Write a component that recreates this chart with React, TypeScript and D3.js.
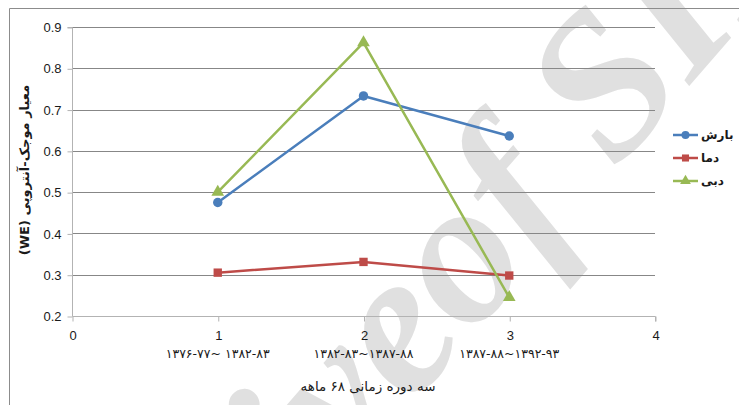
import React, { useRef, useEffect } from 'react';
import * as d3 from 'd3';

const periods = [1, 2, 3];
const periodLabels = ['۱۳۷۶-۷۷~ ۱۳۸۲-۸۳', '۱۳۸۲-۸۳~۱۳۸۷-۸۸', '۱۳۸۷-۸۸~۱۳۹۲-۹۳'];
const rainfall = [0.475, 0.733, 0.636];
const temperature = [0.305, 0.331, 0.298];
const discharge = [0.5, 0.862, 0.245];
const seriesNames = ['بارش', 'دما', 'دبی'];
const seriesColors = ['#4A7EBB', '#BE4B48', '#98B954'];
const yTicks = [0.2, 0.3, 0.4, 0.5, 0.6, 0.7, 0.8, 0.9];
const xTicks = [0, 1, 2, 3, 4];

const App = () => {
  const ref = useRef<SVGSVGElement>(null);

  useEffect(() => {
    const svg = d3.select(ref.current);
    svg.selectAll('*').remove();

    const x = d3.scaleLinear().domain([0, 4]).range([72, 655]);
    const y = d3.scaleLinear().domain([0.2, 0.9]).range([316, 27]);
    const numFont = '"Liberation Sans", Arial, sans-serif';
    const faFont = '"DejaVu Sans", sans-serif';

    svg.append('rect').attr('width', 739).attr('height', 405).attr('fill', '#fff');

    // watermark, behind the chart
    const wm = svg.append('g')
      .attr('transform', 'translate(470,338) rotate(-49)')
      .attr('font-family', '"Liberation Serif", serif')
      .attr('font-style', 'italic')
      .attr('font-weight', 'bold')
      .attr('font-size', 205)
      .attr('fill', '#e0e0e0');
    wm.append('text').attr('text-anchor', 'end').text('Archive ');
    wm.append('text').attr('text-anchor', 'start').text('of SID');

    // outer chart border
    svg.append('path')
      .attr('d', 'M9.5,405V8.5H739')
      .attr('fill', 'none')
      .attr('stroke', '#8c8c8c')
      .attr('stroke-width', 1);

    // gridlines
    svg.append('g').selectAll('line')
      .data(yTicks.slice(1))
      .enter().append('line')
      .attr('x1', x(0)).attr('x2', x(4))
      .attr('y1', d => Math.round(y(d)) + 0.5).attr('y2', d => Math.round(y(d)) + 0.5)
      .attr('stroke', '#878787');

    // y axis
    const yAxis = svg.append('g')
      .attr('transform', `translate(${x(0) + 0.5},0.5)`)
      .call(d3.axisLeft(y).tickValues(yTicks).tickSize(5).tickPadding(6).tickFormat(d3.format('.1f')));
    yAxis.select('.domain').attr('stroke', '#b3b3b3').attr('d', `M-5,${y(0.9)}H0V${y(0.2)}`);
    yAxis.selectAll('.tick line').attr('stroke', '#b3b3b3');
    yAxis.selectAll('.tick text')
      .attr('font-family', numFont).attr('font-size', 13).attr('fill', '#1a1a1a');

    // x axis
    const xAxis = svg.append('g')
      .attr('transform', `translate(0.5,${y(0.2) + 0.5})`)
      .call(d3.axisBottom(x).tickValues(xTicks).tickSize(5).tickPadding(9).tickFormat(d3.format('d')));
    xAxis.select('.domain').attr('stroke', '#b3b3b3').attr('d', `M${x(0)},0H${x(4)}V5`);
    xAxis.selectAll('.tick line').attr('stroke', '#b3b3b3');
    xAxis.selectAll('.tick text')
      .attr('font-family', numFont).attr('font-size', 13).attr('fill', '#1a1a1a');

    // period labels
    svg.append('g').selectAll('text')
      .data(periods)
      .enter().append('text')
      .attr('x', d => x(d))
      .attr('y', 358)
      .attr('text-anchor', 'middle')
      .attr('direction', 'ltr')
      .attr('font-family', faFont)
      .attr('font-size', 12.5)
      .attr('fill', '#1a1a1a')
      .text((d, i) => periodLabels[i]);

    // axis titles
    svg.append('text')
      .attr('x', 368).attr('y', 391)
      .attr('text-anchor', 'middle')
      .attr('direction', 'rtl')
      .attr('font-family', faFont)
      .attr('font-size', 13.5)
      .attr('fill', '#1a1a1a')
      .text('سه دوره زمانی ۶۸ ماهه');

    svg.append('text')
      .attr('transform', 'translate(29,170) rotate(-90)')
      .attr('text-anchor', 'middle')
      .attr('direction', 'rtl')
      .attr('font-family', faFont)
      .attr('font-size', 13)
      .attr('font-weight', 'bold')
      .attr('fill', '#1a1a1a')
      .text('معیار موجک-آنتروپی (WE)');

    // series
    const allSeries = [rainfall, temperature, discharge];
    const line = d3.line<number>().x((d, i) => x(periods[i])).y(d => y(d));
    const symbols = [d3.symbolCircle, d3.symbolSquare, d3.symbolTriangle];

    allSeries.forEach((vals, k) => {
      const g = svg.append('g');
      g.append('path')
        .attr('d', line(vals))
        .attr('fill', 'none')
        .attr('stroke', seriesColors[k])
        .attr('stroke-width', 2.5)
        .attr('stroke-linejoin', 'round');
      g.selectAll('path.m')
        .data(vals)
        .enter().append('path')
        .attr('class', 'm')
        .attr('d', d3.symbol().type(symbols[k]).size(70))
        .attr('transform', (d, i) => `translate(${x(periods[i])},${y(d)})`)
        .attr('fill', seriesColors[k]);
    });

    // legend
    const legend = svg.append('g');
    seriesNames.forEach((name, k) => {
      const ly = 135 + k * 23;
      legend.append('line')
        .attr('x1', 673).attr('x2', 698)
        .attr('y1', ly).attr('y2', ly)
        .attr('stroke', seriesColors[k]).attr('stroke-width', 2.5);
      legend.append('path')
        .attr('d', d3.symbol().type(symbols[k]).size(50))
        .attr('transform', `translate(685.5,${ly})`)
        .attr('fill', seriesColors[k]);
      legend.append('text')
        .attr('x', 701).attr('y', ly + 4)
        .attr('font-family', faFont)
        .attr('font-size', 12)
        .attr('font-weight', 'bold')
        .attr('fill', '#1a1a1a')
        .text(name);
    });
  }, []);

  return (
    <>
      <style>{`
        body { margin: 0; }
        svg { display: block; }
      `}</style>
      <svg ref={ref} width={739} height={405} />
    </>
  );
};

export default App;
